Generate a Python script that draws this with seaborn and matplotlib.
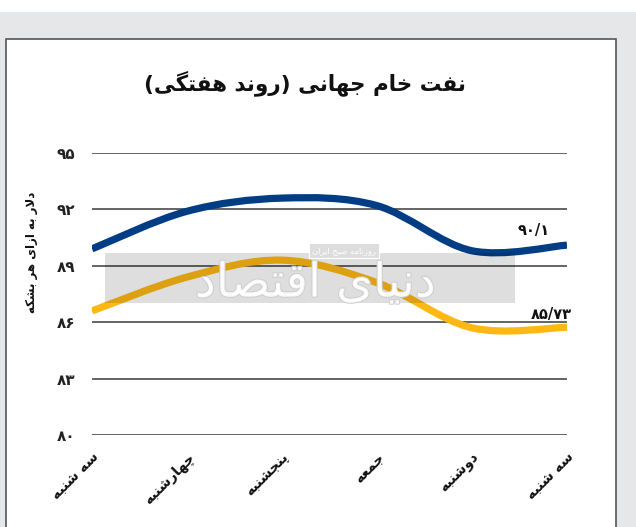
import numpy as np
import pandas as pd
import matplotlib
matplotlib.use('Agg')
import matplotlib.pyplot as plt
import matplotlib.patheffects as pe
from matplotlib.path import Path
from matplotlib.patches import PathPatch, Rectangle
import seaborn as sns

# data (USD per barrel)
days = ['سه شنبه', 'چهارشنبه', 'پنجشنبه', 'جمعه', 'دوشنبه', 'سه شنبه']
blue_vals = [89.9, 91.9, 92.6, 92.2, 89.8, 90.1]
yellow_vals = [86.6, 88.4, 89.3, 88.1, 85.7, 85.73]
end_labels = ['۹۰/۱', '۸۵/۷۳']
yticks = [80, 83, 86, 89, 92, 95]

title = 'نفت خام جهانی (روند هفتگی)'
ylabel = 'دلار به ازای هر بشکه'

BLUE = '#003d84'
YELLOW = '#fdb813'

# --- minimal persian shaping (matplotlib has no RTL / joining) ---
FORMS = {
    'ا': ('\uFE8D', '\uFE8E', None, None),
    'ب': ('\uFE8F', '\uFE90', '\uFE91', '\uFE92'),
    'پ': ('\uFB56', '\uFB57', '\uFB58', '\uFB59'),
    'ت': ('\uFE95', '\uFE96', '\uFE97', '\uFE98'),
    'ج': ('\uFE9D', '\uFE9E', '\uFE9F', '\uFEA0'),
    'چ': ('\uFB7A', '\uFB7B', '\uFB7C', '\uFB7D'),
    'ح': ('\uFEA1', '\uFEA2', '\uFEA3', '\uFEA4'),
    'خ': ('\uFEA5', '\uFEA6', '\uFEA7', '\uFEA8'),
    'د': ('\uFEA9', '\uFEAA', None, None),
    'ر': ('\uFEAD', '\uFEAE', None, None),
    'ز': ('\uFEAF', '\uFEB0', None, None),
    'س': ('\uFEB1', '\uFEB2', '\uFEB3', '\uFEB4'),
    'ش': ('\uFEB5', '\uFEB6', '\uFEB7', '\uFEB8'),
    'ص': ('\uFEB9', '\uFEBA', '\uFEBB', '\uFEBC'),
    'ع': ('\uFEC9', '\uFECA', '\uFECB', '\uFECC'),
    'ف': ('\uFED1', '\uFED2', '\uFED3', '\uFED4'),
    'ق': ('\uFED5', '\uFED6', '\uFED7', '\uFED8'),
    'ک': ('\uFB8E', '\uFB8F', '\uFB90', '\uFB91'),
    'گ': ('\uFB92', '\uFB93', '\uFB94', '\uFB95'),
    'ل': ('\uFEDD', '\uFEDE', '\uFEDF', '\uFEE0'),
    'م': ('\uFEE1', '\uFEE2', '\uFEE3', '\uFEE4'),
    'ن': ('\uFEE5', '\uFEE6', '\uFEE7', '\uFEE8'),
    'ه': ('\uFEE9', '\uFEEA', '\uFEEB', '\uFEEC'),
    'و': ('\uFEED', '\uFEEE', None, None),
    'ی': ('\uFBFC', '\uFBFD', '\uFBFE', '\uFBFF'),
}


def fa(text):
    out = []
    i = 0
    n = len(text)
    while i < n:
        c = text[i]
        prev_joins = i > 0 and text[i-1] in FORMS and FORMS[text[i-1]][2] is not None
        if c == 'ل' and i + 1 < n and text[i+1] == 'ا':
            out.append('\uFEFC' if prev_joins else '\uFEFB')
            i += 2
            continue
        if c not in FORMS:
            out.append(c)
            i += 1
            continue
        iso, fin, ini, med = FORMS[c]
        next_joins = ini is not None and i + 1 < n and text[i+1] in FORMS
        if prev_joins and next_joins:
            g = med
        elif prev_joins:
            g = fin
        elif next_joins:
            g = ini
        else:
            g = iso
        out.append(g)
        i += 1
    mirror = {'(': ')', ')': '('}
    return ''.join(mirror.get(c, c) for c in reversed(out))


def fa_digits(v):
    return str(v).translate(str.maketrans('0123456789', '۰۱۲۳۴۵۶۷۸۹'))


def smooth_path(xs, ys):
    # bezier curve through the points (catmull-rom control points)
    p = np.column_stack([xs, ys]).astype(float)
    pad = np.vstack([p[0], p, p[-1]])
    verts = [p[0]]
    codes = [Path.MOVETO]
    for i in range(len(p) - 1):
        p0, p1, p2, p3 = pad[i], pad[i+1], pad[i+2], pad[i+3]
        verts += [p1 + (p2 - p0) / 6, p2 - (p3 - p1) / 6, p2]
        codes += [Path.CURVE4] * 3
    return Path(verts, codes)


df = pd.DataFrame({'day': range(len(days)), 'blue': blue_vals, 'yellow': yellow_vals})

sns.set_theme(style='white')
plt.rcParams['font.family'] = ['DejaVu Sans']

W, H = 636, 527
fig = plt.figure(figsize=(W/100, H/100), dpi=100, facecolor='#e6e7e8')
fig.patches.append(Rectangle((0, 1 - 12/H), 1, 12/H, transform=fig.transFigure,
                             facecolor='white', edgecolor='none', zorder=-2))
fig.patches.append(Rectangle((6/W, -0.01), 610/W, 1 - 39/H + 0.01, transform=fig.transFigure,
                             facecolor='white', edgecolor='#555555', lw=1.2, zorder=-2))

ax = fig.add_axes([92/W, 1 - 435/H, 475/W, 282/H])
ax.set_facecolor('none')

# seaborn sets up the axes, curves drawn smooth through the same points
sns.lineplot(data=df, x='day', y='blue', ax=ax, lw=0, legend=False)
sns.lineplot(data=df, x='day', y='yellow', ax=ax, lw=0, legend=False)
for col, color in [('blue', BLUE), ('yellow', YELLOW)]:
    ax.add_patch(PathPatch(smooth_path(df['day'], df[col]), facecolor='none',
                           edgecolor=color, lw=5.2, capstyle='butt', zorder=3))

ax.set_xlim(0, 5)
ax.set_ylim(80, 95)
ax.set_yticks(yticks)
ax.set_yticklabels([fa_digits(v) for v in yticks], fontsize=11, fontweight='bold', color='#222222')
ax.set_xticks(range(len(days)))
ax.set_xticklabels([fa(d) for d in days], rotation=45, ha='right', va='top',
                   rotation_mode='anchor', fontsize=10, fontweight='bold', color='#111111')
ax.tick_params(axis='y', length=0, pad=12)
ax.tick_params(axis='x', length=0, pad=11)
ax.grid(axis='y', color='#3a3a3a', lw=1.1)
ax.grid(axis='x', visible=False)
for s in ax.spines.values():
    s.set_visible(False)
ax.set_xlabel('')
ax.set_ylabel('')

# end labels
ax.text(4.82, blue_vals[-1] + 0.4, end_labels[0], ha='right', va='bottom',
        fontsize=10.5, fontweight='bold', color='#111111', zorder=5)
ax.text(5.05, yellow_vals[-1] + 0.3, end_labels[1], ha='right', va='bottom',
        fontsize=10.5, fontweight='bold', color='#111111', zorder=5)

# watermark band
ax.add_patch(Rectangle((0.027, 0.468), 0.863, 0.177, transform=ax.transAxes,
                       facecolor='black', alpha=0.13, edgecolor='none', zorder=4))
ax.text(0.47, 0.535, fa('دنیای اقتصاد'), transform=ax.transAxes, ha='center', va='center',
        fontsize=34, color='white', alpha=0.85, zorder=5,
        path_effects=[pe.withStroke(linewidth=1.5, foreground='#cccccc')])
ax.text(0.53, 0.655, fa('روزنامه صبح ایران'), transform=ax.transAxes, ha='center', va='center',
        fontsize=6, color='white', zorder=6,
        bbox=dict(facecolor='#dddddd', edgecolor='white', lw=0.8, pad=2))

fig.text(305/W, 1 - 83/H, fa(title), ha='center', va='center',
         fontsize=15.5, fontweight='bold', color='#111111')
fig.text(32/W, 1 - 252/H, fa(ylabel), ha='center', va='center', rotation=90,
         fontsize=8.5, fontweight='bold', color='#111111')

plt.savefig('out.png', dpi=100, facecolor=fig.get_facecolor())
